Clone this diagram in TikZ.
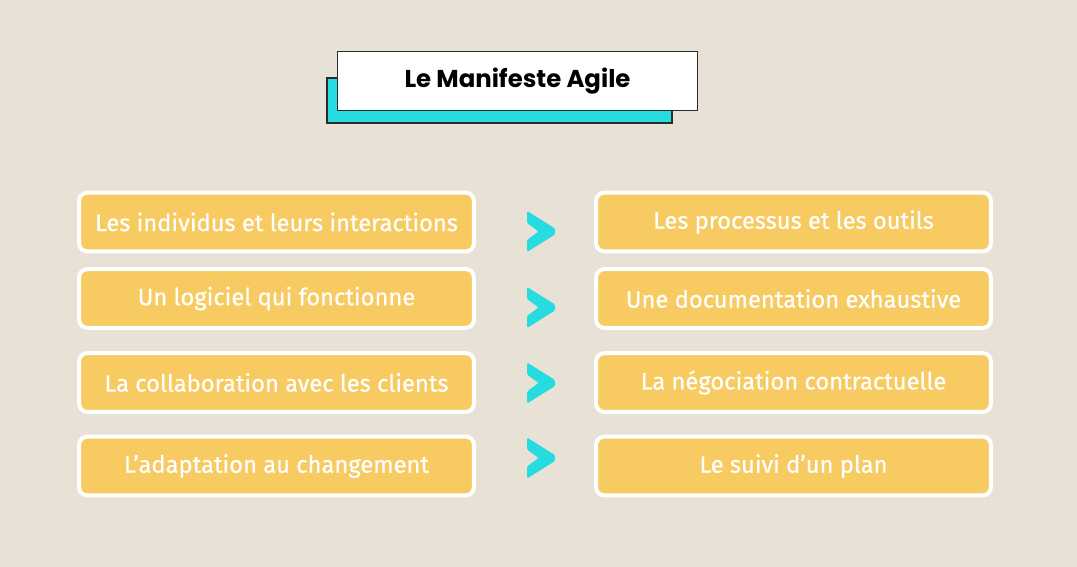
\documentclass[tikz,border=0pt]{standalone}
\usepackage{fontspec}
\setmainfont[FakeBold=0.4]{Fira Sans}
\newfontfamily\titlefont{Poppins}
\usetikzlibrary{positioning}
\definecolor{sand}{HTML}{E8E2D6}
\definecolor{mustard}{HTML}{F8CB62}
\definecolor{turquoise}{HTML}{26DCE0}
\definecolor{ink}{HTML}{2B2B2B}
\tikzset{
  value/.style={fill=mustard, draw=white, line width=3pt, rounded corners=6pt,
    minimum width=296pt, minimum height=44pt, inner sep=0pt,
    text=white, font=\fontsize{17.8}{21}\selectfont},
  titlebox/.style={fill=white, draw=ink, line width=0.8pt,
    minimum width=270pt, minimum height=44.5pt, inner sep=0pt,
    font=\titlefont\bfseries\fontsize{18.3}{22}\selectfont}
}

\begin{document}
\begin{tikzpicture}[x=0.75pt,y=-0.75pt]
      \fill[sand] (0,0) rectangle (1077,567);
      \useasboundingbox (0,0) rectangle (1077,567);

      % title
      \fill[turquoise, draw=ink, line width=0.8pt] (327,78) rectangle (672,123);
      \node[titlebox] (title) at (517.5,81) {Le Manifeste Agile};

      % left column
      \node[value] (people) at (276.5,222) {Les individus et leurs interactions};
      \node[value] (software) at (276.5,298.5) {Un logiciel qui fonctionne};
      \node[value] (customer) at (276.5,382.5) {La collaboration avec les clients};
      \node[value] (change) at (276.5,466) {L’adaptation au changement};

      % right column
      \node[value] (process) at (793.5,222) {Les processus et les outils};
      \node[value] (docs) at (793.5,298.5) {Une documentation exhaustive};
      \node[value] (contract) at (793.5,382.5) {La négociation contractuelle};
      \node[value] (plan) at (793.5,466) {Le suivi d’un plan};

      % chevrons
      \foreach \y in {231.5,307.5,383,458}
        \fill[turquoise, rounded corners=1pt] (527,\y) ++(0,-20.5) -- ++(28,17.5) -- ++(0,6)
          -- ++(-28,17.5) -- ++(0,-12) -- ++(11.6,-8.5) -- ++(-11.6,-8.5) -- cycle;
    \end{tikzpicture}
\end{document}
